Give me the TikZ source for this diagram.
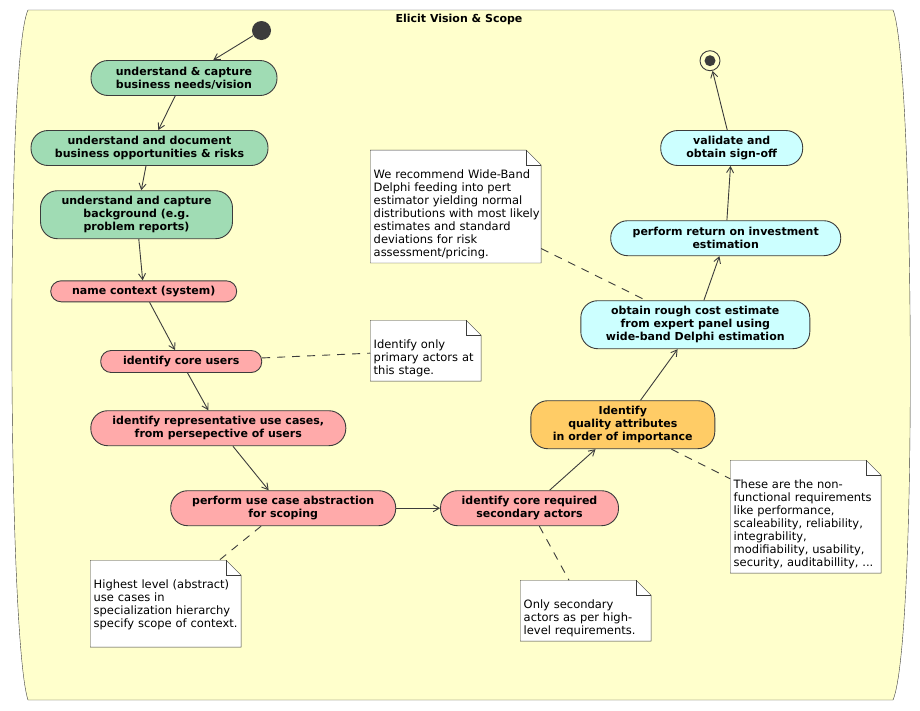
\documentclass[tikz,border=0pt]{standalone}
\usepackage{fontspec}
\setmainfont{DejaVu Sans}
\usepackage{tikz}
\usetikzlibrary{arrows.meta,backgrounds}

\definecolor{frameyellow}{HTML}{FFFFCC}
\definecolor{actgreen}{HTML}{A0DCB4}
\definecolor{actpink}{HTML}{FFAAAA}
\definecolor{actorange}{HTML}{FFCC66}
\definecolor{actcyan}{HTML}{CCFFFF}
\definecolor{linegray}{HTML}{3C3C3C}

\newcommand{\ntop}{\rule{0pt}{25pt}}
\newcommand{\nbot}[1][3]{\rule[-#1pt]{0pt}{#1pt}}

\begin{document}
\begin{tikzpicture}[->,>={Straight Barb[length=6pt,width=7pt]},x=1pt,y=-1pt,line width=0.9pt,
  every edge/.style={draw=linegray},
  act/.style={rectangle,rounded corners=17pt,draw=linegray,inner sep=0pt,align=center,
    font=\bfseries\fontsize{11}{13}\selectfont},
  small/.style={rounded corners=10.5pt},
  note/.style={rectangle,inner xsep=3pt,inner ysep=3pt,align=left,
    font=\fontsize{11.5}{13}\selectfont},
  notelink/.style={-,dash pattern=on 8pt off 7pt}]
\useasboundingbox (0,0) rectangle (920,710);

\node[font=\bfseries\fontsize{11}{13}\selectfont] (title) at (459,19) {Elicit Vision \& Scope};

\node[circle,fill=linegray,minimum size=19pt,inner sep=0pt] (start) at (261.5,30.5) {};
\node[circle,draw=linegray,minimum size=20pt,inner sep=0pt,
  path picture={\fill[linegray] (path picture bounding box.center) circle (5.5pt);}] (stop) at (710,60.7) {};

% green: business context
\node[act,fill=actgreen,minimum width=186pt,minimum height=35pt] (n1) at (184,78) {understand \& capture\\business needs/vision};
\node[act,fill=actgreen,minimum width=237pt,minimum height=35pt] (n2) at (149.5,148) {understand and document\\business opportunities \& risks};
\node[act,fill=actgreen,minimum width=192pt,minimum height=48pt] (n3) at (136.5,214.7) {understand and capture\\background (e.g.\\problem reports)};

% pink: scoping
\node[act,small,fill=actpink,minimum width=186pt,minimum height=21pt] (n4) at (143.7,291.3) {name context (system)};
\node[act,small,fill=actpink,minimum width=161pt,minimum height=22pt] (n5) at (181.2,361.5) {identify core users};
\node[act,fill=actpink,minimum width=255pt,minimum height=35pt] (n6) at (218.3,428.2) {identify representative use cases,\\from persepective of users};
\node[act,fill=actpink,minimum width=225pt,minimum height=35pt] (n7) at (283.2,508.2) {perform use case abstraction\\for scoping};
\node[act,fill=actpink,minimum width=178pt,minimum height=35pt] (n8) at (529.5,508.2) {identify core required\\secondary actors};

\node[act,fill=actorange,minimum width=184pt,minimum height=48pt] (n9) at (622.8,424.7) {Identify\\quality attributes\\in order of importance};

% cyan: estimation and sign-off
\node[act,fill=actcyan,minimum width=229pt,minimum height=48pt] (n10) at (695.3,324.7) {obtain rough cost estimate\\from expert panel using\\wide-band Delphi estimation};
\node[act,fill=actcyan,minimum width=230pt,minimum height=35pt] (n11) at (725.7,238.2) {perform return on investment\\estimation};
\node[act,fill=actcyan,minimum width=142pt,minimum height=35pt] (n12) at (731.7,148) {validate and\\obtain sign-off};

% notes
\node[note,text width=164pt] (noteA) at (455.7,206.5) {\ntop We recommend Wide-Band\\Delphi feeding into pert\\estimator yielding normal\\\mbox{distributions with most likely}\\estimates and standard\\deviations for risk\\assessment/pricing.\nbot};
\node[note,text width=104pt] (noteB) at (425.7,350.7) {\ntop Identify only\\primary actors at\\this stage.\nbot};
\node[note,text width=144pt] (noteC) at (165.7,603.7) {\ntop Highest level (abstract)\\use cases in\\specialization hierarchy\\\mbox{specify scope of context.}\nbot[16]};
\node[note,text width=124pt] (noteD) at (585.7,610.7) {\ntop Only secondary\\actors as per high-\\level requirements.\nbot};
\node[note,text width=144pt] (noteE) at (805.7,516.7) {\ntop These are the non-\\functional requirements\\like performance,\\scaleability, reliability,\\integrability,\\modifiability, usability,\\\mbox{security, auditabillity, ...}\nbot};

\path
  (start) edge (n1)
  (n1) edge (n2)
  (n2) edge (n3)
  (n3) edge (n4)
  (n4) edge (n5)
  (n5) edge (n6)
  (n6) edge (n7)
  (n7) edge (n8)
  (n8) edge (n9)
  (n9) edge (n10)
  (n10) edge (n11)
  (n11) edge (n12)
  (n12) edge (stop);
\path[notelink]
  (noteA) edge (n10)
  (n5) edge (noteB)
  (n7) edge (noteC)
  (n8) edge (noteD)
  (n9) edge (noteE);

\begin{pgfonlayer}{background}
\fill[white] (0,0) rectangle (920,710);
\draw[-,fill=frameyellow,draw=linegray] (28,10) -- (893,10) .. controls (914,60) and (918,640) .. (893,700)
  -- (28,700) .. controls (8,640) and (5,60) .. (28,10) -- cycle;
\foreach \n in {noteA,noteB,noteC,noteD,noteE}{
  \draw[-,fill=white,draw=linegray] (\n.south west) -- (\n.north west) -- ([xshift=-15pt]\n.north east)
    -- ([yshift=-15pt]\n.north east) -- (\n.south east) -- cycle;
  \draw[-,draw=linegray] ([xshift=-15pt]\n.north east) |- ([yshift=-15pt]\n.north east);
}
\end{pgfonlayer}
\end{tikzpicture}
\end{document}
